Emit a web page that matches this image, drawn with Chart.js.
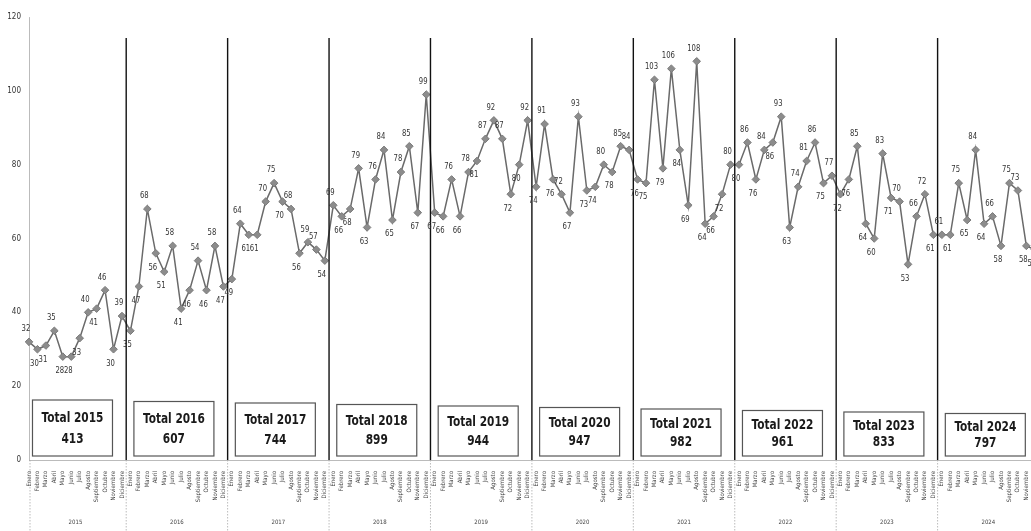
<!DOCTYPE html>
<html>
<head>
<meta charset="utf-8">
<script src="https://cdn.jsdelivr.net/npm/chart.js@4.4.0/dist/chart.umd.min.js"></script>
<style>
  html, body { margin: 0; padding: 0; background: #fff; overflow: hidden; }
  #wrap { width: 1045px; height: 531px; }
</style>
</head>
<body>
<div id="wrap"><canvas id="chart" width="1045" height="531"></canvas></div>
<script>
/* global Chart */

// ─── Data ────────────────────────────────────────────────────────────────────

const years = ["2015", "2016", "2017", "2018", "2019", "2020", "2021", "2022", "2023", "2024"];
const months = ["Enero", "Febrero", "Marzo", "Abril", "Mayo", "Junio", "Julio",
  "Agosto", "Septiembre", "Octubre", "Noviembre", "Diciembre"];
const totals = [413, 607, 744, 899, 944, 947, 982, 961, 833, 797];

const v2015 = [32, 30, 31, 35, 28, 28, 33, 40, 41, 46, 30, 39];
const v2016 = [35, 47, 68, 56, 51, 58, 41, 46, 54, 46, 58, 47];
const v2017 = [49, 64, 61, 61, 70, 75, 70, 68, 56, 59, 57, 54];
const v2018 = [69, 66, 68, 79, 63, 76, 84, 65, 78, 85, 67, 99];
const v2019 = [67, 66, 76, 66, 78, 81, 87, 92, 87, 72, 80, 92];
const v2020 = [74, 91, 76, 72, 67, 93, 73, 74, 80, 78, 85, 84];
const v2021 = [76, 75, 103, 79, 106, 84, 69, 108, 64, 66, 72, 80];
const v2022 = [80, 86, 76, 84, 86, 93, 63, 74, 81, 86, 75, 77];
const v2023 = [72, 76, 85, 64, 60, 83, 71, 70, 53, 66, 72, 61];
const v2024 = [61, 61, 75, 65, 84, 64, 66, 58, 75, 73, 58, 57];

const yTicks = [0, 20, 40, 60, 80, 100, 120];

const series = [v2015, v2016, v2017, v2018, v2019, v2020, v2021, v2022, v2023, v2024].flat();
const labels = years.flatMap(() => months);

const FONT = "'Liberation Sans Narrow', 'DejaVu Sans Condensed', 'Roboto', sans-serif";

// draw text squeezed horizontally, the scan uses a condensed face
function narrowText(ctx, text, x, y, sx) {
  ctx.save();
  ctx.translate(x, y);
  ctx.scale(sx, 1);
  ctx.fillText(text, 0, 0);
  ctx.restore();
}

// ─── Plugins ─────────────────────────────────────────────────────────────────

// Year separators, year names and the "Total" boxes
const yearDecor = {
  id: "yearDecor",
  afterDatasetsDraw(chart) {
    const { ctx, scales: { x, y }, chartArea } = chart;
    const step = x.getPixelForValue(1) - x.getPixelForValue(0);
    ctx.save();

    years.forEach((yr, i) => {
      const first = i * 12;
      const mid = x.getPixelForValue(first) + step * 5.5;

      if (i > 0) {
        const sx = x.getPixelForValue(first) - step / 2;
        ctx.strokeStyle = "#111";
        ctx.lineWidth = 1.4;
        ctx.setLineDash([]);
        ctx.beginPath();
        ctx.moveTo(sx, 38);
        ctx.lineTo(sx, chartArea.bottom);
        ctx.stroke();

        ctx.strokeStyle = "#aaa";
        ctx.lineWidth = 0.8;
        ctx.setLineDash([1.5, 1.5]);
        ctx.beginPath();
        ctx.moveTo(sx, chartArea.bottom);
        ctx.lineTo(sx, 531);
        ctx.stroke();
      }

      // year name under the month labels
      ctx.setLineDash([]);
      ctx.fillStyle = "#444";
      ctx.font = `6px ${FONT}`;
      ctx.textAlign = "center";
      ctx.textBaseline = "middle";
      ctx.fillText(yr, mid, 522);

      // Total box
      const bw = 80;
      const top = 400 + i * 1.5;
      const bottom = y.getPixelForValue(0) - 4;
      const cx = mid - 3;
      ctx.fillStyle = "#fff";
      ctx.fillRect(cx - bw / 2, top, bw, bottom - top);
      ctx.strokeStyle = "#555";
      ctx.lineWidth = 1.2;
      ctx.strokeRect(cx - bw / 2, top, bw, bottom - top);

      ctx.fillStyle = "#1a1a1a";
      ctx.font = `bold 14px ${FONT}`;
      narrowText(ctx, `Total ${yr}`, cx, top + (bottom - top) * 0.33, 0.84);
      narrowText(ctx, String(totals[i]), cx, top + (bottom - top) * 0.7, 0.84);
    });

    // dotted y axis continuing through the label area
    ctx.strokeStyle = "#aaa";
    ctx.lineWidth = 0.8;
    ctx.setLineDash([1.5, 1.5]);
    ctx.beginPath();
    ctx.moveTo(chartArea.left + 1, chartArea.bottom);
    ctx.lineTo(chartArea.left + 1, 531);
    ctx.stroke();

    ctx.restore();
  },
};

// Value labels above peaks, below troughs
const valueLabels = {
  id: "valueLabels",
  afterDatasetsDraw(chart) {
    const { ctx } = chart;
    const meta = chart.getDatasetMeta(0);
    ctx.save();
    ctx.font = `9px ${FONT}`;
    ctx.fillStyle = "#333";
    ctx.textAlign = "center";
    ctx.textBaseline = "middle";
    meta.data.forEach((pt, i) => {
      const v = series[i];
      const prev = series[i - 1] ?? series[i + 1];
      const next = series[i + 1] ?? series[i - 1];
      const above = v >= (prev + next) / 2;
      narrowText(ctx, String(v), pt.x - 3, above ? pt.y - 13 : pt.y + 14, 0.85);
    });
    ctx.restore();
  },
};

// ─── Chart ───────────────────────────────────────────────────────────────────

new Chart(document.getElementById("chart"), {
  type: "line",
  data: {
    labels,
    datasets: [{
      data: series,
      borderColor: "#6a6a6a",
      borderWidth: 1.5,
      pointStyle: "rectRot",
      pointRadius: 3.8,
      pointBackgroundColor: "#8c8c8c",
      pointBorderColor: "#7a7a7a",
      pointBorderWidth: 1,
      tension: 0,
      fill: false,
    }],
  },
  options: {
    responsive: false,
    animation: false,
    devicePixelRatio: 1,
    layout: { padding: { top: 17, right: 8, left: 0, bottom: 0 } },
    plugins: { legend: { display: false }, tooltip: { enabled: false } },
    scales: {
      x: {
        type: "category",
        offset: false,
        grid: { display: false },
        border: { display: true, color: "#aaa", dash: [1.5, 1.5], width: 0.8 },
        ticks: {
          autoSkip: false,
          maxRotation: 90,
          minRotation: 90,
          padding: 3,
          color: "#444",
          font: { family: FONT, size: 6 },
        },
        afterFit(s) { s.height = 71; },
      },
      y: {
        min: yTicks[0],
        max: yTicks[yTicks.length - 1],
        afterBuildTicks(s) { s.ticks = yTicks.map((v) => ({ value: v })); },
        grid: { display: false, drawTicks: false },
        border: { display: true, color: "#aaa", dash: [1.5, 1.5], width: 0.8 },
        ticks: {
          color: "#333",
          padding: 8,
          font: { family: FONT, size: 8 },
        },
        afterFit(s) { s.width = 29; },
      },
    },
  },
  plugins: [yearDecor, valueLabels],
});
</script>
</body>
</html>
